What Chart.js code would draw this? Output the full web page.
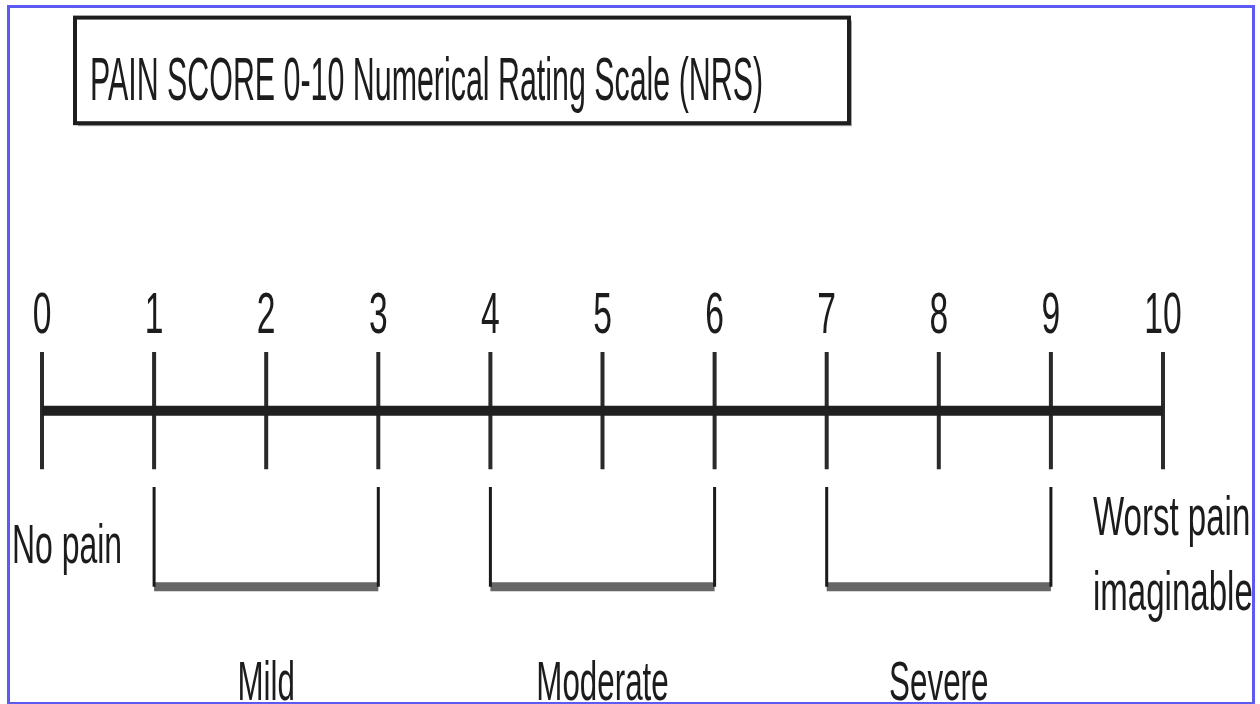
<!DOCTYPE html>
<html>
<head>
<meta charset="utf-8">
<script src="https://cdn.jsdelivr.net/npm/chart.js@4.4.1/dist/chart.umd.min.js"></script>
<style>
  html, body { margin: 0; padding: 0; background: #ffffff; }
  #wrap { position: relative; width: 1260px; height: 704px; overflow: hidden; }
  #frame {
    position: absolute; left: 7px; top: 5px; width: 1248px; height: 700px;
    box-sizing: border-box; border: 3px solid #5b5bf2; pointer-events: none;
  }
</style>
</head>
<body>
<div id="wrap">
  <canvas id="scale" width="1260" height="704"></canvas>
  <div id="frame"></div>
</div>
<script>
// Scale values and the bands that group them
const scores = [0, 1, 2, 3, 4, 5, 6, 7, 8, 9, 10];
const bands = ["Mild", "Moderate", "Severe"];
const bandStart = [1, 4, 7];
const bandEnd = [3, 6, 9];
const lowLabel = ["No pain"];
const highLabel = ["Worst pain", "imaginable"];
const titleText = "PAIN SCORE 0-10 Numerical Rating Scale (NRS)";

const FONT = '"Liberation Sans Narrow", "Liberation Sans", sans-serif';

// Main horizontal bar
const axisLine = [
  { x: scores[0], y: 0 },
  { x: scores[scores.length - 1], y: 0 },
];

// One short vertical stroke per score, split by gaps
const tickLines = scores.flatMap((s) => [
  { x: s, y: -1 },
  { x: s, y: 1 },
  { x: s, y: null },
]);

// Bracket sides and bracket bottoms under each band
const bracketSides = bandStart.flatMap((s, i) => [
  { x: s, y: -1.3 },
  { x: s, y: -3 },
  { x: s, y: null },
  { x: bandEnd[i], y: -1.3 },
  { x: bandEnd[i], y: -3 },
  { x: bandEnd[i], y: null },
]);
const bracketBottoms = bandStart.flatMap((s, i) => [
  { x: s, y: -3 },
  { x: bandEnd[i], y: -3 },
  { x: bandEnd[i], y: null },
]);

// the source lettering is tall and narrow, so squeeze it sideways
const squeezedText = (ctx, text, px, py, size, align, squeeze) => {
  ctx.save();
  ctx.translate(px, py);
  ctx.scale(squeeze, 1);
  ctx.font = size + "px " + FONT;
  ctx.textAlign = align;
  ctx.textBaseline = "alphabetic";
  ctx.fillStyle = "#1c1c1c";
  ctx.fillText(text, 0, 0);
  ctx.restore();
};

// Draws the title box and all the words and numbers
const labelPlugin = {
  id: "labels",
  afterDraw(chart) {
    const ctx = chart.ctx;
    const xs = chart.scales.x;
    const ys = chart.scales.y;

    // title box with a soft grey shadow
    const bx = 75, by = ys.getPixelForValue(6.7);
    const bw = 774, bh = ys.getPixelForValue(4.9) - by;
    ctx.save();
    ctx.fillStyle = "#a8a8a8";
    ctx.fillRect(bx + 3, by + 3, bw, bh);
    ctx.fillStyle = "#ffffff";
    ctx.fillRect(bx, by, bw, bh);
    ctx.lineWidth = 4;
    ctx.strokeStyle = "#1e1e1e";
    ctx.strokeRect(bx, by, bw, bh);
    ctx.restore();
    squeezedText(ctx, titleText, bx + 15, ys.getPixelForValue(5.3), 62, "left", 0.49);

    // numbers above each tick
    scores.forEach((s) => {
      squeezedText(ctx, String(s), xs.getPixelForValue(s), ys.getPixelForValue(1.32), 58, "center", 0.58);
    });

    // end descriptions
    squeezedText(ctx, lowLabel[0], xs.getPixelForValue(scores[0]) - 30, ys.getPixelForValue(-2.6), 56, "left", 0.57);
    const hx = xs.getPixelForValue(scores[scores.length - 1]) - 70;
    squeezedText(ctx, highLabel[0], hx, ys.getPixelForValue(-2.12), 56, "left", 0.59);
    squeezedText(ctx, highLabel[1], hx, ys.getPixelForValue(-3.4), 56, "left", 0.59);

    // band names under the brackets
    bands.forEach((b, i) => {
      const mid = (bandStart[i] + bandEnd[i]) / 2;
      squeezedText(ctx, b, xs.getPixelForValue(mid), ys.getPixelForValue(-4.93), 56, "center", 0.56);
    });
  },
};

const chart = new Chart(document.getElementById("scale"), {
  type: "line",
  plugins: [labelPlugin],
  data: {
    datasets: [
      { data: axisLine, borderColor: "#1f1f1f", borderWidth: 10, pointRadius: 0 },
      { data: tickLines, borderColor: "#2a2a2a", borderWidth: 4, pointRadius: 0 },
      { data: bracketSides, borderColor: "#1a1a1a", borderWidth: 3, pointRadius: 0 },
      { data: bracketBottoms, borderColor: "#666666", borderWidth: 9, pointRadius: 0 },
    ],
  },
  options: {
    responsive: false,
    devicePixelRatio: 1,
    animation: false,
    spanGaps: false,
    layout: { autoPadding: false, padding: { left: 42, right: 97, top: 0, bottom: 0 } },
    elements: { line: { tension: 0 } },
    datasets: { line: { clip: false } },
    scales: {
      x: { type: "linear", min: 0, max: 10, display: false },
      y: { type: "linear", min: -5, max: 7, display: false },
    },
    plugins: { legend: { display: false }, tooltip: { enabled: false } },
  },
});
</script>
</body>
</html>
